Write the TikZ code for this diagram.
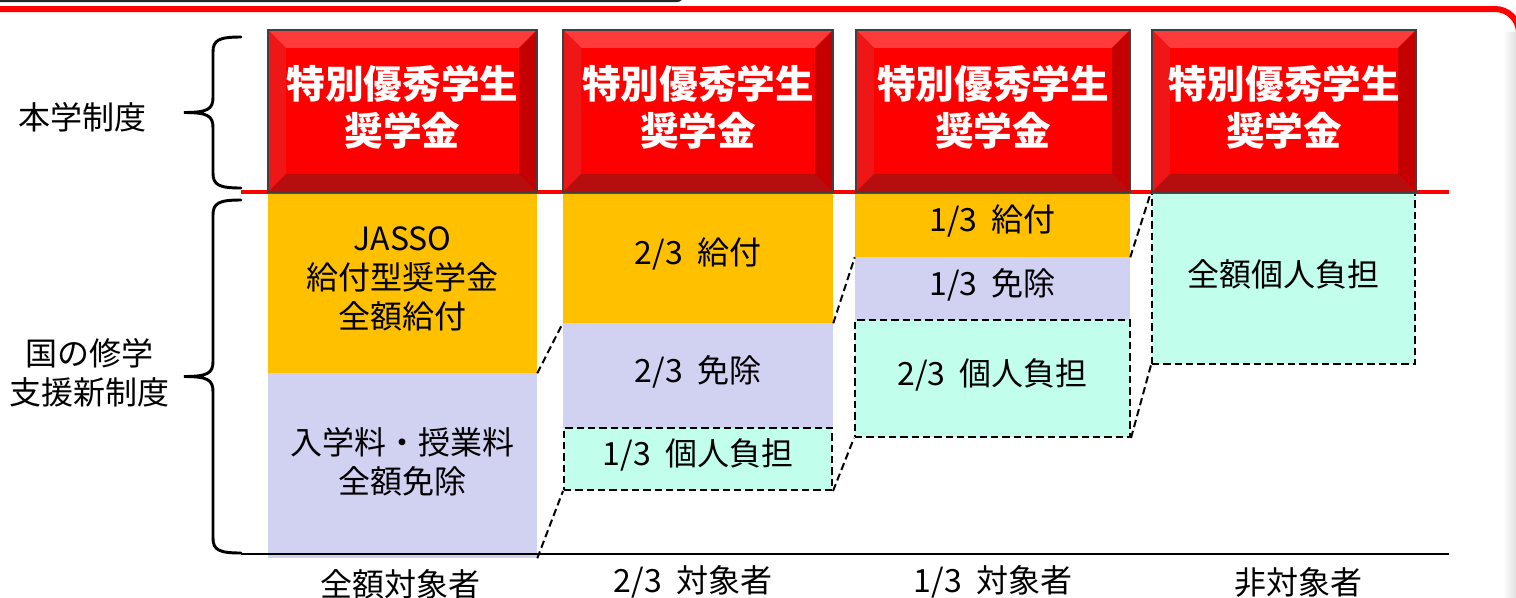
\documentclass[tikz,border=0pt]{standalone}
\usepackage{fontspec}
\setmainfont{Noto Sans CJK JP}
\usepackage{tikz}
\usetikzlibrary{fit,calc}

\definecolor{benefit}{RGB}{255,192,0}
\definecolor{waiver}{RGB}{209,209,242}
\definecolor{selfpay}{RGB}{193,255,236}
\definecolor{scarlet}{RGB}{255,0,0}
\definecolor{bevtop}{RGB}{255,58,58}
\definecolor{bevleft}{RGB}{238,22,22}
\definecolor{bevright}{RGB}{196,0,0}
\definecolor{bevbottom}{RGB}{182,14,14}

\newcommand{\pb}{path picture bounding box}
\newcommand{\numgap}{\hspace{0.45em}}
% left curly brace, #1 = top y, #2 = bottom y
\newcommand{\sidebrace}[2]{%
  \draw[bracepen] (241,#1) .. controls (219,#1) and (213,{#1+3}) .. (213,{#1+15})
    -- (213,{(#1+#2)/2-15}) .. controls (213,{(#1+#2)/2-3}) and (207,{(#1+#2)/2}) .. (184,{(#1+#2)/2})
    .. controls (207,{(#1+#2)/2}) and (213,{(#1+#2)/2+3}) .. (213,{(#1+#2)/2+15})
    -- (213,{#2-15}) .. controls (213,{#2-3}) and (219,#2) .. (241,#2);}

\begin{document}
\begin{tikzpicture}[x=0.75pt,y=-0.75pt,
    cell/.style={inner sep=0pt},
    benefitbox/.style={cell, fill=benefit},
    waiverbox/.style={cell, fill=waiver},
    dashline/.style={dash pattern=on 5.5pt off 3pt, line width=1.5pt},
    selfbox/.style={cell, fill=selfpay, draw=black, dashline},
    celltext/.style={font=\fontsize{24}{29}\selectfont, align=center, yshift=3pt},
    redtext/.style={font=\fontsize{29}{35}\selectfont\bfseries, text=white, align=center, yshift=3pt},
    bracepen/.style={line width=2.2pt, line cap=round},
    redbox/.style={fit={#1}, inner sep=0pt, draw=black!75, line width=1.2pt, fill=scarlet,
      path picture={
        \fill[bevtop] (\pb.north west) -- (\pb.north east) -- ([shift={(-18,18)}]\pb.north east) -- ([shift={(18,18)}]\pb.north west) -- cycle;
        \fill[bevleft] (\pb.north west) -- ([shift={(18,18)}]\pb.north west) -- ([shift={(18,-18)}]\pb.south west) -- (\pb.south west) -- cycle;
        \fill[bevright] (\pb.north east) -- ([shift={(-18,18)}]\pb.north east) -- ([shift={(-18,-18)}]\pb.south east) -- (\pb.south east) -- cycle;
        \fill[bevbottom] (\pb.south west) -- ([shift={(18,-18)}]\pb.south west) -- ([shift={(-18,-18)}]\pb.south east) -- (\pb.south east) -- cycle;
        \fill[scarlet] ([shift={(18,18)}]\pb.north west) rectangle ([shift={(-18,-18)}]\pb.south east);
      }},
    label/.style={font=\fontsize{24}{29}\selectfont, align=center}]

    \useasboundingbox (0,0) rectangle (1516,597);

    % slide frame
    \draw[black!85, line width=1.8pt, rounded corners=6pt] (-5,1) -- (684,1) -- (684,-12);
    \draw[scarlet, line width=4.5pt, rounded corners=18pt] (-5,9) -- (1519,9) -- (1519,610);
    \shade[left color=white, right color=black!12] (1503,32) rectangle (1516,597);

    % column 1
    \node[benefitbox, fit={(268,193) (537,373)}] (o1) {};
    \node[waiverbox, fit={(268,373) (537,558)}] (w1) {};
    % column 2
    \node[benefitbox, fit={(563,193) (833,323)}] (o2) {};
    \node[waiverbox, fit={(563,323) (833,428)}] (w2) {};
    \node[selfbox, fit={(564,428) (832,490)}] (p2) {};
    % column 3
    \node[benefitbox, fit={(855,193) (1130,257)}] (o3) {};
    \node[waiverbox, fit={(855,257) (1130,320)}] (w3) {};
    \node[selfbox, fit={(855,320) (1130,437)}] (p3) {};
    % column 4
    \node[selfbox, fit={(1152,193) (1415,364)}] (p4) {};

    \node[celltext] (o1t) at (o1) {JASSO\\給付型奨学金\\全額給付};
    \node[celltext] (w1t) at (w1) {入学料・授業料\\全額免除};
    \node[celltext] (o2t) at (o2) {2/3\numgap 給付};
    \node[celltext] (w2t) at (w2) {2/3\numgap 免除};
    \node[celltext] (p2t) at (p2) {1/3\numgap 個人負担};
    \node[celltext] (o3t) at (o3) {1/3\numgap 給付};
    \node[celltext] (w3t) at (w3) {1/3\numgap 免除};
    \node[celltext] (p3t) at (p3) {2/3\numgap 個人負担};
    \node[celltext] (p4t) at (p4) {全額個人負担};

    \draw[scarlet, line width=3pt] (241,192) -- (1449,192);

    \node[redbox={(268,30) (537,192)}] (r1) {};
    \node[redbox={(563,30) (833,192)}] (r2) {};
    \node[redbox={(856,30) (1130,192)}] (r3) {};
    \node[redbox={(1152,30) (1416,192)}] (r4) {};
    \node[redtext] (r1t) at (r1) {特別優秀学生\\奨学金};
    \node[redtext] (r2t) at (r2) {特別優秀学生\\奨学金};
    \node[redtext] (r3t) at (r3) {特別優秀学生\\奨学金};
    \node[redtext] (r4t) at (r4) {特別優秀学生\\奨学金};

    \draw[line width=2.2pt] (241,554) -- (1449,554);

    \draw[dashline] (o1.south east) -- (o2.south west);
    \draw[dashline] (w1.south east) -- (p2.south west);
    \draw[dashline] (o2.south east) -- (o3.south west);
    \draw[dashline] (p2.south east) -- (p3.south west);
    \draw[dashline] (o3.south east) -- (p4.north west);
    \draw[dashline] (p3.south east) -- (p4.south west);

    \sidebrace{37}{188}
    \sidebrace{200}{553}

    \node[label] (own) at (82,117) {本学制度};
    \node[label] (nat) at (89,373) {国の修学\\支援新制度};

    % Labels for the columns
    \node[label] (full) at (400,584) {全額対象者};
    \node[label] (two) at (693,582) {2/3\numgap 対象者};
    \node[label] (one) at (993,582) {1/3\numgap 対象者};
    \node[label] (none) at (1298,582) {非対象者};
\end{tikzpicture}
\end{document}
